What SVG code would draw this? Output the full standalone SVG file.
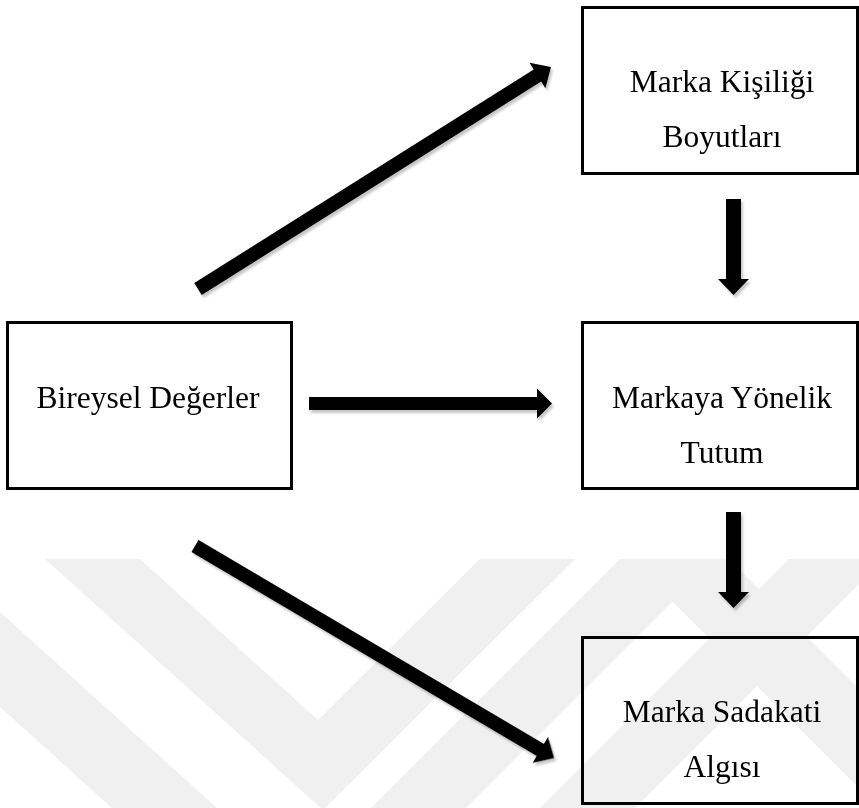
<svg xmlns="http://www.w3.org/2000/svg" width="859" height="808" viewBox="0 0 859 808">
  <style>
    .box { fill: none; stroke: #000; stroke-width: 3; }
    .lbl { font-family: "Liberation Serif", "Times New Roman", serif; font-size: 31.5px; fill: #000; text-anchor: middle; }
    .arr { fill: #000; }
    .wm { fill: #f0f0f0; }
  </style>
  <defs>
    <filter id="shadow" x="-10%" y="-10%" width="120%" height="130%">
      <feDropShadow dx="2" dy="3" stdDeviation="0.8" flood-color="#000" flood-opacity="0.22"/>
    </filter>
  </defs>
  <rect x="0" y="0" width="859" height="808" fill="#fff"/>
  <g id="watermark">
    <polygon class="wm" points="45,559 140,559 318,720 480,559 575,559 323,810"/>
    <polygon class="wm" points="0,612 217,808 112,808 0,707"/>
    <polygon class="wm" points="620,559 715,559 466,808 371,808"/>
    <polygon class="wm" points="630,559 729,559 859,689 859,788"/>
    <polygon class="wm" points="789,559 884,559 635,808 540,808"/>
  </g>
  <g id="connectors" filter="url(#shadow)">
    <polygon class="arr" transform="translate(198,289) rotate(-32.17)" points="0,-7 401,-7 401,-15 417,0 401,15 401,7 0,7"/>
    <polygon class="arr" transform="translate(309,403.5)" points="0,-6.5 228,-6.5 228,-15 243,0 228,15 228,6.5 0,6.5"/>
    <polygon class="arr" transform="translate(195,546) rotate(30.56)" points="0,-7 401,-7 401,-15 417,0 401,15 401,7 0,7"/>
    <polygon class="arr" transform="translate(733.5,199) rotate(90)" points="0,-7.5 80,-7.5 80,-15.5 96,0 80,15.5 80,7.5 0,7.5"/>
    <polygon class="arr" transform="translate(733.5,512) rotate(90)" points="0,-7.5 80,-7.5 80,-15.5 96,0 80,15.5 80,7.5 0,7.5"/>
  </g>
  <g id="marka-kisiligi">
    <rect class="box" x="582.5" y="7.5" width="275" height="166"/>
    <text class="lbl" x="722" y="92">Marka Kişiliği</text>
    <text class="lbl" x="722" y="147">Boyutları</text>
  </g>
  <g id="bireysel-degerler">
    <rect class="box" x="7.5" y="322.5" width="284" height="166"/>
    <text class="lbl" x="148" y="408">Bireysel Değerler</text>
  </g>
  <g id="markaya-yonelik-tutum">
    <rect class="box" x="582.5" y="322.5" width="275" height="166"/>
    <text class="lbl" x="722" y="408">Markaya Yönelik</text>
    <text class="lbl" x="722" y="463">Tutum</text>
  </g>
  <g id="marka-sadakati">
    <rect class="box" x="582.5" y="637.5" width="275" height="166"/>
    <text class="lbl" x="722" y="722">Marka Sadakati</text>
    <text class="lbl" x="722" y="777">Algısı</text>
  </g>
</svg>
